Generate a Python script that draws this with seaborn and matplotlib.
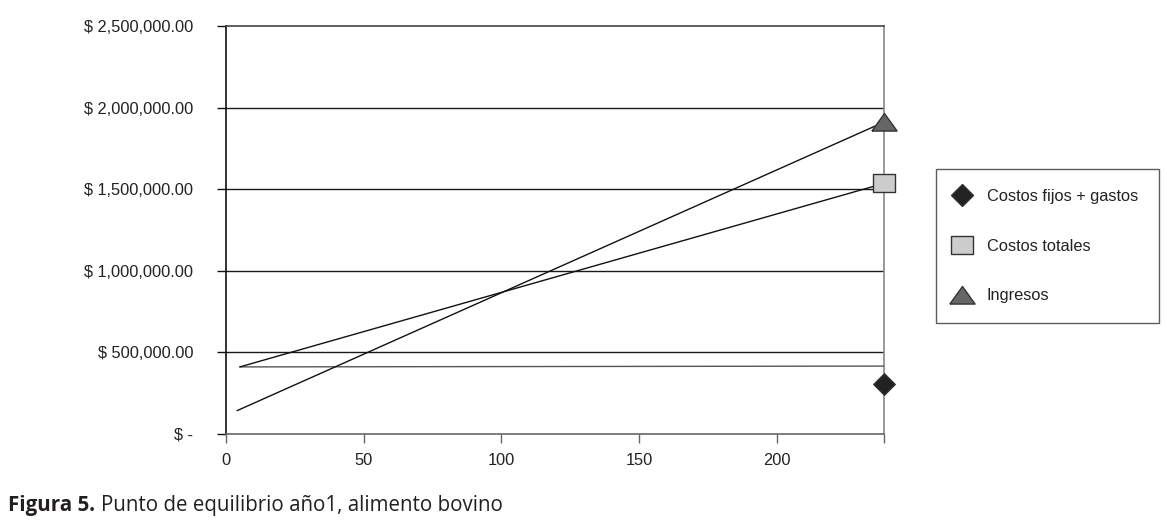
import numpy as np
import pandas as pd
import seaborn as sns
import matplotlib.pyplot as plt
from matplotlib.ticker import FuncFormatter
from matplotlib.lines import Line2D

# data (x = unidades, y = pesos)
x_start = [5, 5, 4]
x_end = [239, 239, 239]
series = ["Costos fijos + gastos", "Costos totales", "Ingresos"]
line_start = [411000, 411000, 143000]
line_end = [416000, 1536000, 1912000]
point_values = [306000, 1536000, 1912000]

y_ticks = [0, 500000, 1000000, 1500000, 2000000, 2500000]
x_ticks = [0, 50, 100, 150, 200]


def money(value, _):
    if value == 0:
        return "$ -"
    return f"$ {value:,.2f}"


sns.set_style("white")
plt.rcParams['font.family'] = ['Liberation Sans', 'DejaVu Sans']

lines_df = pd.DataFrame({
    "serie": series * 2,
    "x": x_start + x_end,
    "y": line_start + line_end,
})
points_df = pd.DataFrame({"serie": series, "x": x_end, "y": point_values})

fig = plt.figure(figsize=(11.67, 5.27), dpi=100)
ax = fig.add_axes([0.1937, 0.1765, 0.7578 - 0.1937, 0.9507 - 0.1765])

line_colors = {"Costos fijos + gastos": "#555555", "Costos totales": "#111111", "Ingresos": "#111111"}
sns.lineplot(data=lines_df, x="x", y="y", hue="serie", palette=line_colors,
             linewidth=1.0, legend=False, ax=ax, zorder=3)

# markers: diamond, wide rectangle, flat triangle
rect = [(-1.3, -1), (1.3, -1), (1.3, 1), (-1.3, 1), (-1.3, -1)]
tri = [(-1.4, -0.95), (1.4, -0.95), (0, 1.0), (-1.4, -0.95)]
marker_style = {
    "Costos fijos + gastos": dict(marker="D", color="#222222", s=120),
    "Costos totales": dict(marker=rect, color="#cccccc", s=260),
    "Ingresos": dict(marker=tri, color="#666666", s=330),
}
for name in series:
    st = marker_style[name]
    sub = points_df[points_df["serie"] == name]
    sns.scatterplot(data=sub, x="x", y="y", marker=st["marker"], color=st["color"],
                    s=st["s"], edgecolor="#333333", linewidth=1.0, ax=ax,
                    zorder=5, clip_on=False, legend=False)

ax.set_xlim(0, 239)
ax.set_ylim(0, 2500000)
ax.set_xticks(x_ticks + [239])
ax.set_xticklabels([str(t) for t in x_ticks] + [""])
ax.set_yticks(y_ticks)
ax.yaxis.set_major_formatter(FuncFormatter(money))
ax.set_xlabel("")
ax.set_ylabel("")

for yv in y_ticks[1:-1]:
    ax.axhline(yv, color="#1a1a1a", linewidth=1.0, zorder=1)

ax.spines['left'].set_color("#111111")
ax.spines['bottom'].set_color("#666666")
ax.spines['top'].set_color("#444444")
ax.spines['right'].set_color("#888888")
for sp in ax.spines.values():
    sp.set_linewidth(1.2)

ax.tick_params(axis='y', direction='out', length=6.5, width=1.0, color="#111111",
               pad=17, labelsize=11.8, labelcolor="#222222", left=True)
ax.tick_params(axis='x', direction='out', length=6.5, width=1.0, color="#666666",
               pad=7, labelsize=11.8, labelcolor="#222222", bottom=True)

handles = []
for name in series:
    st = marker_style[name]
    handles.append(Line2D([], [], linestyle="none", marker=st["marker"],
                          markerfacecolor=st["color"], markeredgecolor="#333333",
                          markersize=np.sqrt(st["s"]) * 1.0, markeredgewidth=1.0))
leg = fig.legend(handles, series, loc="center left",
                 bbox_to_anchor=(0.802, 0.387, 0.191, 0.292), mode="expand",
                 fontsize=11.8, frameon=True, fancybox=False, borderpad=1.2,
                 labelspacing=2.12, handlelength=0.8, handletextpad=1.1,
                 borderaxespad=0)
leg.get_frame().set_edgecolor("#333333")
leg.get_frame().set_linewidth(1.0)
for t in leg.get_texts():
    t.set_color("#222222")

# caption
renderer = fig.canvas.get_renderer()
cap_y = 1 - 511 / 527
cap_font = ["Open Sans", "DejaVu Sans"]
t1 = fig.text(8 / 1167, cap_y, "Figura 5.", fontsize=14.8, fontweight="bold",
              family=cap_font, color="#231f20", va="baseline")
bb = t1.get_window_extent(renderer)
fig.text((bb.x1 + 6) / fig.bbox.width, cap_y, "Punto de equilibrio año1, alimento bovino",
         fontsize=14.8, family=cap_font, color="#231f20", va="baseline")

fig.savefig("out.png", dpi=100)
